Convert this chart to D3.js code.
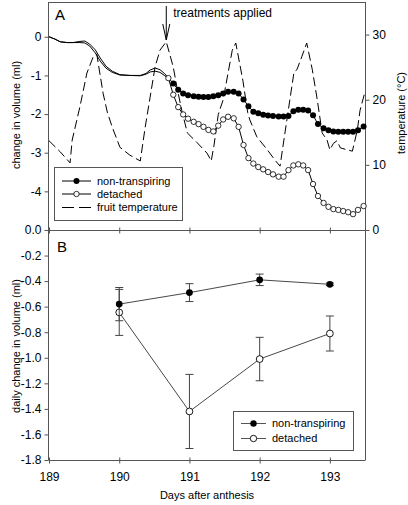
<!DOCTYPE html>
<html><head><meta charset="utf-8">
<script src="https://cdn.jsdelivr.net/npm/d3@7"></script>
<style>
body{margin:0;background:#fff}
svg{display:block}
text{font-family:"Liberation Sans",Arial,sans-serif;fill:#000}
</style>
</head><body>
<svg id="chart" width="408" height="505"></svg>
<script>
// ---------- DATA ----------
// Panel A: fruit temperature (°C)
const tempDays = [189.00,189.16,189.30,189.33,189.44,189.54,189.63,189.68,189.77,189.83,189.90,190.01,190.15,190.30,190.37,190.44,190.51,190.58,190.67,190.77,190.82,190.89,190.97,191.11,191.25,191.31,191.35,191.41,191.48,191.55,191.61,191.66,191.76,191.83,191.86,191.96,192.11,192.22,192.29,192.36,192.43,192.49,192.53,192.60,192.67,192.75,192.82,192.89,192.96,193.00,193.05,193.10,193.15,193.25,193.32,193.39,193.43,193.50];
const tempValues = [13.7,12.0,10.3,13.8,18.9,24.1,26.6,27.0,21.0,18.1,15.8,12.7,11.5,10.6,15.8,20.4,25.0,27.6,28.9,25.0,22.0,18.4,14.9,13.4,11.8,10.6,13.0,17.7,20.0,24.1,27.6,28.7,23.0,18.0,16.9,14.3,12.3,10.7,9.8,14.9,20.0,24.3,24.6,26.6,28.7,24.6,20.0,14.9,13.8,12.3,13.3,13.7,12.6,12.3,12.1,15.3,18.4,21.2];

// Panel A: change in volume (ml) before treatments (no markers)
const preDays = [189.00,189.085,189.16,189.26,189.34,189.44,189.51,189.58,189.66,189.73,189.81,189.90,190.01,190.15,190.30,190.38,190.44,190.51,190.58,190.65];
const preNonTransp = [0,-0.06,-0.13,-0.15,-0.15,-0.12,-0.11,-0.19,-0.34,-0.55,-0.76,-0.89,-0.98,-1.00,-1.00,-0.95,-0.86,-0.81,-0.85,-0.96];
const preDetached  = [0,-0.06,-0.13,-0.15,-0.15,-0.15,-0.16,-0.24,-0.42,-0.63,-0.81,-0.92,-0.99,-1.00,-1.01,-0.97,-0.91,-0.89,-0.92,-1.01];

// Panel A: after treatments (with markers)
const detachedDays = [190.70,190.77,190.84,190.91,190.98,191.06,191.13,191.20,191.27,191.34,191.41,191.48,191.55,191.63,191.70,191.77,191.84,191.91,191.98,192.05,192.12,192.19,192.27,192.34,192.41,192.48,192.55,192.62,192.69,192.76,192.83,192.91,192.98,193.05,193.12,193.19,193.26,193.33,193.40,193.48];
const detachedVol = [-1.07,-1.50,-1.82,-2.01,-2.12,-2.20,-2.26,-2.33,-2.41,-2.45,-2.30,-2.14,-2.07,-2.11,-2.33,-2.80,-3.14,-3.28,-3.37,-3.43,-3.50,-3.56,-3.62,-3.62,-3.45,-3.33,-3.30,-3.33,-3.45,-3.81,-4.12,-4.30,-4.40,-4.46,-4.48,-4.51,-4.54,-4.59,-4.48,-4.38];
const nonTranspDays = [190.77,190.84,190.91,190.98,191.06,191.13,191.20,191.27,191.34,191.41,191.48,191.55,191.63,191.70,191.77,191.84,191.91,191.98,192.05,192.12,192.19,192.27,192.34,192.41,192.48,192.55,192.62,192.69,192.76,192.83,192.91,192.98,193.05,193.12,193.19,193.26,193.33,193.40,193.48];
const nonTranspVol = [-1.21,-1.37,-1.47,-1.51,-1.54,-1.55,-1.56,-1.56,-1.54,-1.51,-1.47,-1.42,-1.42,-1.47,-1.62,-1.80,-1.94,-1.98,-2.02,-2.04,-2.05,-2.06,-2.06,-2.05,-1.93,-1.89,-1.89,-1.91,-2.03,-2.26,-2.37,-2.42,-2.45,-2.46,-2.46,-2.46,-2.46,-2.42,-2.32];

// Panel B: daily change in volume (ml)
const dailyDays = [190,191,192,193];
const dailyNonTransp = [-0.58,-0.49,-0.39,-0.425];
const dailyNonTranspErr = [0.13,0.07,0.045,0.01];
const dailyDetached = [-0.645,-1.42,-1.01,-0.81];
const dailyDetachedErr = [0.18,0.29,0.17,0.137];

// Ticks
const xTicks = [189,190,191,192,193];
const volTicks = [0,-1,-2,-3,-4];
const tempTicks = [0,10,20,30];
const dailyTicks = [0,-0.2,-0.4,-0.6,-0.8,-1.0,-1.2,-1.4,-1.6,-1.8];

// ---------- LAYOUT ----------
const L = 49, R = 365, TOP = 2, MID = 230, BOT = 460;
const axisColor = "#555";
const svg = d3.select("#chart");

const x = d3.scaleLinear().domain([189,193.5]).range([L,R]);
const yVol = d3.scaleLinear().domain([-5,0.9]).range([MID,TOP]);
const yTemp = d3.scaleLinear().domain([0,35]).range([MID,TOP]);
const yDaily = d3.scaleLinear().domain([-1.8,0]).range([BOT,MID]);

const hy = v => (v < 0 ? "-" : "") + Math.abs(v).toFixed(1);

function styleAxis(g){
  g.selectAll("path.domain").remove();
  g.selectAll(".tick line").attr("stroke",axisColor);
  g.selectAll(".tick text").attr("font-size",12).attr("fill","#000")
    .style("font-family",'"Liberation Sans",Arial,sans-serif');
}

// Frame lines
const frame = svg.append("g").attr("stroke",axisColor).attr("stroke-width",1).attr("fill","none");
frame.append("line").attr("x1",L).attr("x2",R).attr("y1",TOP+0.5).attr("y2",TOP+0.5);
frame.append("line").attr("x1",L).attr("x2",R).attr("y1",MID+0.5).attr("y2",MID+0.5);
frame.append("line").attr("x1",L).attr("x2",R).attr("y1",BOT+0.5).attr("y2",BOT+0.5);
frame.append("line").attr("x1",L-0.5).attr("x2",L-0.5).attr("y1",TOP).attr("y2",BOT+0.5);
frame.append("line").attr("x1",R+0.5).attr("x2",R+0.5).attr("y1",TOP).attr("y2",BOT+0.5);

// Left axis panel A
svg.append("g").attr("transform",`translate(${L-0.5},0)`)
  .call(d3.axisLeft(yVol).tickValues(volTicks).tickFormat(d => d===0 ? "0" : String(d).replace("\u2212","-")).tickSize(4).tickPadding(3))
  .call(styleAxis);
// Right axis panel A (temperature)
svg.append("g").attr("transform",`translate(${R+0.5},0)`)
  .call(d3.axisRight(yTemp).tickValues(tempTicks).tickFormat(d3.format("d")).tickSize(4).tickPadding(3))
  .call(styleAxis);
// Left axis panel B
svg.append("g").attr("transform",`translate(${L-0.5},0)`)
  .call(d3.axisLeft(yDaily).tickValues(dailyTicks).tickFormat(hy).tickSize(4).tickPadding(3))
  .call(styleAxis);
// Bottom x axis (crossing ticks)
svg.append("g").attr("transform",`translate(0,${BOT+0.5})`)
  .call(d3.axisBottom(x).tickValues(xTicks).tickFormat(d3.format("d")).tickSize(3).tickPadding(9))
  .call(styleAxis)
  .call(g => g.selectAll(".tick line").attr("y1",-3));
// Middle x ticks (crossing, no labels)
svg.append("g").attr("transform",`translate(0,${MID+0.5})`)
  .call(d3.axisBottom(x).tickValues(xTicks).tickFormat("").tickSize(3))
  .call(styleAxis)
  .call(g => g.selectAll(".tick line").attr("y1",-3));

// Axis titles
svg.append("text").attr("transform","translate(19.5,115) rotate(-90)")
  .attr("text-anchor","middle").attr("font-size",11).text("change in volume (ml)");
svg.append("text").attr("transform","translate(19.5,346) rotate(-90)")
  .attr("text-anchor","middle").attr("font-size",11).text("daily change in volume (ml)");
svg.append("text").attr("transform","translate(405,113) rotate(-90)")
  .attr("text-anchor","middle").attr("font-size",11).text("temperature (°C)");
svg.append("text").attr("x",(L+R)/2).attr("y",499)
  .attr("text-anchor","middle").attr("font-size",11).text("Days after anthesis");

// Panel letters
svg.append("text").attr("x",55).attr("y",20).attr("font-size",15).text("A");
svg.append("text").attr("x",57).attr("y",252).attr("font-size",15).text("B");

// ---------- PANEL A ----------
const tempData = tempDays.map((d,i)=>({d, v:tempValues[i]}));
svg.append("path").datum(tempData)
  .attr("fill","none").attr("stroke","#000").attr("stroke-width",1)
  .attr("stroke-dasharray","9,4")
  .attr("d", d3.line().x(p=>x(p.d)).y(p=>yTemp(p.v)));

const volLine = d3.line().x(p=>x(p.d)).y(p=>yVol(p.v));
const detAll = preDays.map((d,i)=>({d,v:preDetached[i]}))
  .concat(detachedDays.map((d,i)=>({d,v:detachedVol[i]})));
const ntAll = preDays.map((d,i)=>({d,v:preNonTransp[i]}))
  .concat(nonTranspDays.map((d,i)=>({d,v:nonTranspVol[i]})));

svg.append("path").datum(detAll).attr("fill","none").attr("stroke","#000").attr("stroke-width",1).attr("d",volLine);
svg.append("path").datum(ntAll).attr("fill","none").attr("stroke","#000").attr("stroke-width",1).attr("d",volLine);

svg.append("g").selectAll("circle").data(detachedDays.map((d,i)=>({d,v:detachedVol[i]})))
  .join("circle").attr("cx",p=>x(p.d)).attr("cy",p=>yVol(p.v)).attr("r",2.7)
  .attr("fill","#fff").attr("stroke","#000").attr("stroke-width",0.8);
svg.append("g").selectAll("circle").data(nonTranspDays.map((d,i)=>({d,v:nonTranspVol[i]})))
  .join("circle").attr("cx",p=>x(p.d)).attr("cy",p=>yVol(p.v)).attr("r",3)
  .attr("fill","#000");

// Treatment arrow
const ax = x(190.67);
svg.append("line").attr("x1",ax).attr("x2",ax).attr("y1",6).attr("y2",40).attr("stroke","#000").attr("stroke-width",1);
svg.append("path").attr("d",`M${ax-3.5},24 L${ax},40 L${ax+3.5},24`).attr("fill","none").attr("stroke","#000").attr("stroke-width",1);
svg.append("text").attr("x",ax+7).attr("y",17).attr("font-size",12).text("treatments applied");

// Legend A
const lgA = svg.append("g");
lgA.append("rect").attr("x",54.5).attr("y",167.5).attr("width",128).attr("height",53)
  .attr("fill","#fff").attr("stroke",axisColor).attr("stroke-width",1);
const lgAItems = [
  {label:"non-transpiring", type:"filled", y:181},
  {label:"detached", type:"open", y:194},
  {label:"fruit temperature", type:"dash", y:207.5}
];
lgAItems.forEach(it=>{
  const l = lgA.append("line").attr("x1",62).attr("x2",91).attr("y1",it.y).attr("y2",it.y)
    .attr("stroke","#000").attr("stroke-width",1);
  if(it.type==="dash") l.attr("stroke-dasharray","12,5");
  if(it.type==="filled") lgA.append("circle").attr("cx",76.5).attr("cy",it.y).attr("r",3).attr("fill","#000");
  if(it.type==="open") lgA.append("circle").attr("cx",76.5).attr("cy",it.y).attr("r",2.7).attr("fill","#fff").attr("stroke","#000").attr("stroke-width",0.8);
  lgA.append("text").attr("x",97).attr("y",it.y).attr("dy","0.35em").attr("font-size",11).text(it.label);
});

// ---------- PANEL B ----------
const errColor = "#444";
function drawSeries(vals, errs, filled){
  const data = dailyDays.map((d,i)=>({d, v:vals[i], e:errs[i]}));
  const g = svg.append("g");
  data.forEach(p=>{
    const xx = x(p.d), y1 = yDaily(p.v+p.e), y2 = yDaily(p.v-p.e);
    g.append("line").attr("x1",xx).attr("x2",xx).attr("y1",y1).attr("y2",y2).attr("stroke",errColor).attr("stroke-width",1);
    g.append("line").attr("x1",xx-4).attr("x2",xx+4).attr("y1",y1).attr("y2",y1).attr("stroke",errColor).attr("stroke-width",1);
    g.append("line").attr("x1",xx-4).attr("x2",xx+4).attr("y1",y2).attr("y2",y2).attr("stroke",errColor).attr("stroke-width",1);
  });
  g.append("path").datum(data).attr("fill","none").attr("stroke","#333").attr("stroke-width",0.9)
    .attr("d", d3.line().x(p=>x(p.d)).y(p=>yDaily(p.v)));
  g.selectAll("circle").data(data).join("circle")
    .attr("cx",p=>x(p.d)).attr("cy",p=>yDaily(p.v)).attr("r",3.4)
    .attr("fill", filled ? "#000" : "#fff").attr("stroke","#000").attr("stroke-width", filled?0:0.9);
}
drawSeries(dailyDetached, dailyDetachedErr, false);
drawSeries(dailyNonTransp, dailyNonTranspErr, true);

// Legend B
const lgB = svg.append("g");
lgB.append("rect").attr("x",233.5).attr("y",411.5).attr("width",120).attr("height",39)
  .attr("fill","#fff").attr("stroke",axisColor).attr("stroke-width",1);
[{label:"non-transpiring", filled:true, y:423.5},{label:"detached", filled:false, y:438.5}].forEach(it=>{
  lgB.append("line").attr("x1",241).attr("x2",266).attr("y1",it.y).attr("y2",it.y).attr("stroke","#555").attr("stroke-width",1);
  lgB.append("circle").attr("cx",253.5).attr("cy",it.y).attr("r",3.2)
    .attr("fill",it.filled?"#000":"#fff").attr("stroke","#000").attr("stroke-width",it.filled?0:0.9);
  lgB.append("text").attr("x",272).attr("y",it.y).attr("dy","0.35em").attr("font-size",11).text(it.label);
});
</script>
</body></html>
